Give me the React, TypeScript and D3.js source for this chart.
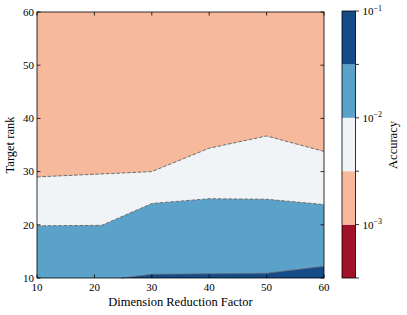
import React from "react";
import * as d3 from "d3";

// axis ticks
const xTicks = [10, 20, 30, 40, 50, 60];
const yTicks = [10, 20, 30, 40, 50, 60];

// contour boundaries (x = reduction factor, y = target rank)
const edgeHighX = [10, 20, 30, 40, 50, 60]; // 10^-2.5
const edgeHighY = [29.0, 29.5, 30.0, 34.4, 36.7, 33.8];
const edgeMidX = [10, 21.3, 30, 40, 50, 60]; // 10^-2
const edgeMidY = [19.8, 19.9, 24.0, 24.9, 24.8, 23.8];
const edgeLowX = [24.7, 30, 40, 50, 60]; // 10^-1.5
const edgeLowY = [10, 10.7, 10.8, 10.9, 12.2];

// colorbar levels (log10 accuracy) and band colours
const levelExp = [-3.5, -3, -2.5, -2, -1.5, -1];
const bandColors = ["#a11228", "#f7b99c", "#f1f4f6", "#5ba2cb", "#154c88"];
const cbarLabels = [-3, -2, -1];

const W = 407;
const H = 315;
const m = { left: 37, right: 324, top: 12, bottom: 278 };
const font = "'Liberation Serif', 'Times New Roman', serif";

export default function App() {
  const x = d3.scaleLinear().domain([10, 60]).range([m.left, m.right]);
  const y = d3.scaleLinear().domain([10, 60]).range([m.bottom, m.top]);

  const zip = (xs: number[], ys: number[]) => xs.map((v, i) => [v, ys[i]] as [number, number]);
  const area = d3
    .area<[number, number]>()
    .x((d) => x(d[0]))
    .y0(y(10))
    .y1((d) => y(d[1]));
  const line = d3
    .line<[number, number]>()
    .x((d) => x(d[0]))
    .y((d) => y(d[1]));

  const high = zip(edgeHighX, edgeHighY);
  const mid = zip(edgeMidX, edgeMidY);
  const low = zip(edgeLowX, edgeLowY);

  const cb = { x0: 342, x1: 355.5 };
  const cy = d3
    .scaleLinear()
    .domain([levelExp[0], levelExp[levelExp.length - 1]])
    .range([m.bottom, 11]);

  return (
    <svg
      width={W}
      height={H}
      style={{ position: "fixed", left: 0, top: 0, background: "#fff" }}
      fontFamily={font}
    >
      {/* filled contours */}
      <rect x={m.left} y={m.top} width={m.right - m.left} height={m.bottom - m.top} fill={bandColors[1]} />
      <path d={area(high) || ""} fill={bandColors[2]} />
      <path d={area(mid) || ""} fill={bandColors[3]} />
      <path d={area(low) || ""} fill={bandColors[4]} />
      {[high, mid, low].map((pts, i) => (
        <path
          key={i}
          d={line(pts) || ""}
          fill="none"
          stroke="#6e6e6e"
          strokeWidth={1}
          strokeDasharray="3.7,1.6"
        />
      ))}

      {/* frame and inward ticks */}
      <rect
        x={m.left}
        y={m.top}
        width={m.right - m.left}
        height={m.bottom - m.top}
        fill="none"
        stroke="#000"
        strokeWidth={0.8}
      />
      {xTicks.map((t) => (
        <g key={"x" + t}>
          <line x1={x(t)} x2={x(t)} y1={m.bottom} y2={m.bottom - 3.5} stroke="#000" strokeWidth={0.8} />
          <line x1={x(t)} x2={x(t)} y1={m.top} y2={m.top + 3.5} stroke="#000" strokeWidth={0.8} />
          <text x={x(t)} y={m.bottom + 13} textAnchor="middle" fontSize={11}>
            {t}
          </text>
        </g>
      ))}
      {yTicks.map((t) => (
        <g key={"y" + t}>
          <line x1={m.left} x2={m.left + 3.5} y1={y(t)} y2={y(t)} stroke="#000" strokeWidth={0.8} />
          <line x1={m.right} x2={m.right - 3.5} y1={y(t)} y2={y(t)} stroke="#000" strokeWidth={0.8} />
          <text x={m.left - 3} y={y(t) + 3.8} textAnchor="end" fontSize={11}>
            {t}
          </text>
        </g>
      ))}
      <text x={(m.left + m.right) / 2} y={306} textAnchor="middle" fontSize={12.5}>
        Dimension Reduction Factor
      </text>
      <text transform={`translate(14,${(m.top + m.bottom) / 2}) rotate(-90)`} textAnchor="middle" fontSize={12.5}>
        Target rank
      </text>

      {/* colorbar */}
      {bandColors.map((c, i) => (
        <rect
          key={c}
          x={cb.x0}
          y={cy(levelExp[i + 1])}
          width={cb.x1 - cb.x0}
          height={cy(levelExp[i]) - cy(levelExp[i + 1])}
          fill={c}
        />
      ))}
      <rect
        x={cb.x0}
        y={cy(levelExp[levelExp.length - 1])}
        width={cb.x1 - cb.x0}
        height={cy(levelExp[0]) - cy(levelExp[levelExp.length - 1])}
        fill="none"
        stroke="#000"
        strokeWidth={0.8}
      />
      {levelExp.map((e) => (
        <line key={e} x1={cb.x1} x2={cb.x1 + 3.5} y1={cy(e)} y2={cy(e)} stroke="#000" strokeWidth={0.8} />
      ))}
      {cbarLabels.map((e) => (
        <text key={e} x={cb.x1 + 7} y={cy(e) + 4} fontSize={11}>
          10
          <tspan dy={-4.5} fontSize={8}>
            {"\u2212" + Math.abs(e)}
          </tspan>
        </text>
      ))}
      <text transform={`translate(397,${(m.top + m.bottom) / 2}) rotate(-90)`} textAnchor="middle" fontSize={12.5}>
        Accuracy
      </text>
    </svg>
  );
}
